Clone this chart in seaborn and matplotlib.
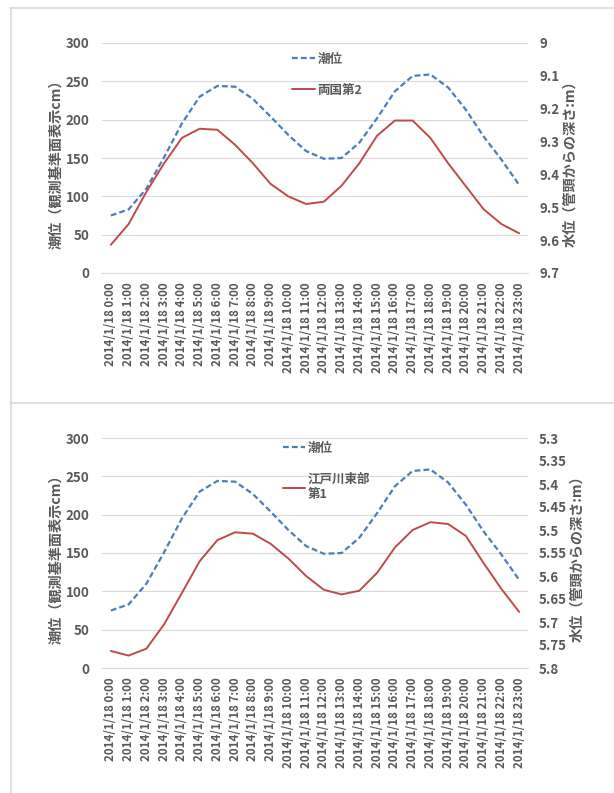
"""Tide level vs. groundwater depth, two wells (2014/1/18)"""

import matplotlib.pyplot as plt
import matplotlib.ticker as mticker
import pandas as pd
import seaborn as sns
from matplotlib.lines import Line2D

# x categories (hourly)
times = [f"2014/1/18 {h}:00" for h in range(24)]

# 潮位 (cm), same for both panels
tide_cm = [75, 83, 110, 151, 195, 230, 244, 243, 227, 204, 180, 159,
           149, 150, 170, 202, 237, 257, 259, 242, 213, 178, 148, 115]

# 水位 (depth from well head, m)
ryogoku_depth = [9.614, 9.551, 9.453, 9.366, 9.289, 9.261, 9.264, 9.310,
                 9.366, 9.429, 9.467, 9.490, 9.483, 9.434, 9.366, 9.282,
                 9.236, 9.236, 9.289, 9.366, 9.436, 9.506, 9.551, 9.579]
edogawa_depth = [5.763, 5.773, 5.758, 5.705, 5.637, 5.568, 5.522, 5.505,
                 5.508, 5.530, 5.562, 5.600, 5.630, 5.640, 5.632, 5.593,
                 5.538, 5.500, 5.483, 5.487, 5.513, 5.572, 5.628, 5.678]

tide_ticks = [0, 50, 100, 150, 200, 250, 300]
ryogoku_ticks = [9.0, 9.1, 9.2, 9.3, 9.4, 9.5, 9.6, 9.7]
edogawa_ticks = [5.3, 5.35, 5.4, 5.45, 5.5, 5.55, 5.6, 5.65, 5.7, 5.75, 5.8]

BLUE = "#4A7EBB"
RED = "#BE4B48"
TEXT = "#595959"
GRID = "#D9D9D9"

sns.set_style("white")
plt.rcParams['font.family'] = ['Noto Sans CJK JP', 'DejaVu Sans']

W, H = 614, 793
fig = plt.figure(figsize=(W / 100, H / 100), dpi=100)


def px_rect(left, top, right, bottom):
    # pixel box -> figure fraction [l, b, w, h]
    return [left / W, 1 - bottom / H, (right - left) / W, (bottom - top) / H]


def draw_panel(rect, depth, name, ticks, legend_anchor, right_label_x):
    df = pd.DataFrame({"time": times, "tide": tide_cm, "depth": depth})
    ax = fig.add_axes(rect)
    ax2 = ax.twinx()

    sns.lineplot(data=df, x="time", y="tide", ax=ax, color=BLUE,
                 linewidth=1.6, sort=False)
    ax.lines[-1].set_dashes((2.6, 1.4))
    sns.lineplot(data=df, x="time", y="depth", ax=ax2, color=RED,
                 linewidth=1.4, sort=False)

    ax.set_xlim(-0.5, len(times) - 0.5)
    ax.set_ylim(0, 300)
    ax.set_yticks(tide_ticks)
    ax2.set_ylim(ticks[-1], ticks[0])
    ax2.set_yticks(ticks)
    ax2.yaxis.set_major_formatter(mticker.FuncFormatter(lambda v, p: f"{v:g}"))

    ax.set_xticks(range(len(times)))
    ax.set_xticklabels(times, rotation=90, fontsize=8.3, fontweight="bold",
                       color=TEXT)
    ax.set_xticks([i - 0.5 for i in range(len(times) + 1)], minor=True)
    ax.tick_params(axis="x", which="major", length=0, pad=6.5)
    ax.tick_params(axis="x", which="minor", length=4, color=GRID, width=0.8)
    ax.tick_params(axis="y", length=0, pad=9, labelsize=9.6, labelcolor=TEXT)
    ax2.tick_params(axis="y", length=0, pad=8, labelsize=9.6, labelcolor=TEXT)
    for lab in ax.get_yticklabels() + ax2.get_yticklabels():
        lab.set_fontweight("bold")

    ax.grid(axis="y", color=GRID, linewidth=0.8)
    ax.grid(axis="x", visible=False)
    ax2.grid(False)
    for a in (ax, ax2):
        for side in ("top", "right", "left"):
            a.spines[side].set_visible(False)
    ax.spines["bottom"].set_color(GRID)
    ax2.spines["bottom"].set_visible(False)

    ax.set_xlabel("")
    ax.set_ylabel("潮位（観測基準面表示cm）", fontsize=10.2, fontweight="bold",
                  color=TEXT)
    ax2.set_ylabel("水位（管頭からの深さ:m）", fontsize=10.2, fontweight="bold",
                   color=TEXT, rotation=90)
    ax.yaxis.set_label_coords(-0.09, 0.49)
    ax2.yaxis.set_label_coords(right_label_x, 0.49)

    handles = [Line2D([], [], color=BLUE, linewidth=1.6, dashes=(2.6, 1.4)),
               Line2D([], [], color=RED, linewidth=1.4)]
    leg = ax2.legend(handles, ["潮位", name], loc="upper left",
                     bbox_to_anchor=legend_anchor, frameon=False,
                     prop={"size": 9, "weight": "bold"}, handlelength=1.8,
                     handletextpad=0.2, labelspacing=1.45, borderaxespad=0)
    for t in leg.get_texts():
        t.set_color(TEXT)


draw_panel(px_rect(102, 43, 528, 273), ryogoku_depth, "両国第2",
           ryogoku_ticks, (0.435, 0.98), 1.082)
draw_panel(px_rect(102, 438, 528, 668), edogawa_depth, "江戸川東部\n第1",
           edogawa_ticks, (0.413, 1.005), 1.1)

# panel frames
for xs, ys in [((10, W), (8, 8)), ((10, W), (403, 403)), ((10.5, 10.5), (8, H))]:
    fig.add_artist(Line2D([x / W for x in xs], [1 - y / H for y in ys],
                          color=GRID, linewidth=1.2))

fig.savefig("out.png", dpi=100, facecolor="white")
